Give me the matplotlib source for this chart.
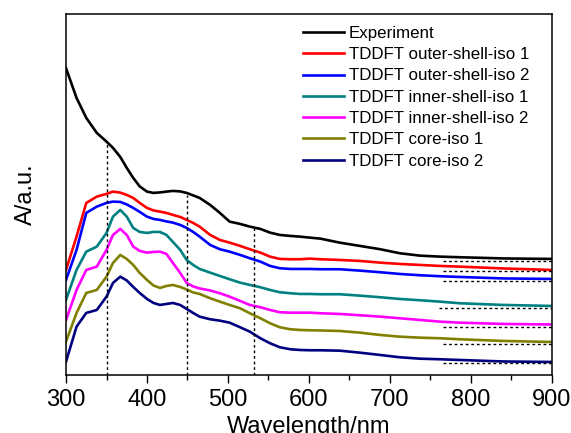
import matplotlib
matplotlib.use('Agg')
import matplotlib.pyplot as plt
from matplotlib.ticker import MultipleLocator

plt.rcParams['font.family'] = ['Liberation Sans', 'DejaVu Sans']

# wavelength grid (nm) shared by all spectra
wl = [300, 313, 325, 338, 350, 358, 367, 375, 383, 391, 400, 408, 416, 424,
      432, 441, 449, 457, 465, 478, 490, 502, 515, 527, 540, 552, 564, 577,
      589, 601, 614, 638, 663, 688, 712, 737, 762, 786, 840, 900]

names = ['Experiment', 'TDDFT outer-shell-iso 1', 'TDDFT outer-shell-iso 2',
         'TDDFT inner-shell-iso 1', 'TDDFT inner-shell-iso 2',
         'TDDFT core-iso 1', 'TDDFT core-iso 2']
colors = ['black', '#ff0000', '#0000ff', '#008080', '#ff00ff', '#808000', '#000080']

# offset spectra (arbitrary units)
experiment = [306.7, 277, 257, 242, 233.3, 227, 218, 207, 197, 188.5, 183.3, 182,
              182.5, 183.3, 184, 183.5, 182, 179.5, 177, 170, 162, 153.3, 151,
              148.3, 146, 142.3, 140, 139, 138.3, 137.3, 136.3, 132.3, 129, 125.7,
              121.7, 119.3, 118.3, 117.7, 116.5, 116]
outer1 = [105, 138.3, 172, 178.3, 181, 183.3, 182.3, 180, 177, 172, 167, 164.5,
          163.3, 162, 160, 158, 155, 152, 148.3, 140, 135, 132.3, 129, 125.7,
          122.3, 118.3, 116, 115.7, 115.7, 116.3, 115.7, 115, 114, 112.3, 111,
          110, 109, 108.3, 106.5, 105]
outer2 = [95, 125, 162, 168.3, 172, 173.3, 173, 170.5, 167, 163, 158.3, 156, 155,
          153.5, 152.3, 150, 147, 143, 138.3, 130, 125.7, 123.3, 120, 116.7,
          113.3, 109, 106.7, 106, 106, 106, 105.7, 105.7, 104.3, 102.7, 101,
          99.7, 98.7, 98, 96.5, 96]
inner1 = [75, 105, 123.3, 128.3, 142, 158.3, 165, 158.3, 147, 143, 142, 143, 143,
          140, 133, 125, 115, 110, 106, 102.3, 99, 95.7, 92.3, 90, 87.7, 85,
          82.7, 81.7, 81, 81, 80.7, 80.7, 79.3, 77.7, 76, 74.7, 73.3, 71.7, 70, 69]
inner2 = [55, 85, 105, 108.3, 125, 140, 146, 140, 128.3, 124, 122.3, 123, 123.3,
          121, 112, 102, 92, 88.5, 86.5, 84.5, 81.7, 78.3, 74, 70, 67.7, 65,
          62.7, 62.3, 62.3, 62.3, 61.7, 61, 59.7, 58.3, 56.7, 55, 53.3, 52.3, 51, 50.5]
core1 = [33.3, 62, 82, 85, 98.3, 112, 120, 116, 110, 102, 95, 89.5, 87, 89, 90,
         88, 85.5, 82.5, 81, 76.7, 73.3, 70, 66.7, 61.7, 56.7, 51.7, 47.7, 45.7,
         45, 44.7, 44.5, 44, 42.3, 40, 38.3, 37.3, 36.7, 35.7, 34, 33]
core2 = [13.3, 48.3, 62, 65, 78.3, 92, 98.3, 94.5, 88, 82, 76, 72, 70, 71, 72,
         70, 66, 62, 58.3, 55.7, 54.3, 52.3, 47.7, 43.3, 36.7, 31.7, 27.7, 25.7,
         25, 24.7, 24.7, 24.3, 22.3, 20, 17.7, 16.3, 15.7, 15, 13.5, 13]
spectra = [experiment, outer1, outer2, inner1, inner2, core1, core2]

# guide lines
peak_wl = [350, 450, 532]
peak_top = [232, 180, 147]
base_levels = [114, 104, 94, 67, 48, 31, 12]
base_start = [765, 765, 765, 760, 765, 765, 765]

fig = plt.figure(figsize=(5.71, 4.33), dpi=100)
ax = fig.add_axes([0.1156, 0.134, 0.851, 0.834])

for y, c, n in zip(spectra, colors, names):
    ax.plot(wl, y, color=c, lw=1.9, label=n, solid_joinstyle='round')

ax.vlines(peak_wl, 0, peak_top, colors='black', linestyles=(0, (2, 2)), lw=1.0)
for lvl, s in zip(base_levels, base_start):
    ax.plot([s, 900], [lvl, lvl], color='black', ls=(0, (2, 2)), lw=1.0)

ax.set_xlim(300, 900)
ax.set_ylim(0, 361)
ax.xaxis.set_major_locator(MultipleLocator(100))
ax.xaxis.set_minor_locator(MultipleLocator(50))
ax.tick_params(axis='x', which='major', direction='out', length=6, width=1,
               labelsize=17, pad=4)
ax.tick_params(axis='x', which='minor', direction='out', length=3.5, width=1)
ax.set_yticks([])
for sp in ax.spines.values():
    sp.set_linewidth(1.1)

ax.set_xlabel('Wavelength/nm', fontsize=17, labelpad=4)
ax.set_ylabel('A/a.u.', fontsize=17, labelpad=21)

ax.legend(loc='upper left', bbox_to_anchor=(0.47, 0.99), frameon=False,
          fontsize=12.2, handlelength=2.4, handletextpad=0.3, labelspacing=0.37,
          borderpad=0)

fig.savefig('out.png', dpi=100)
